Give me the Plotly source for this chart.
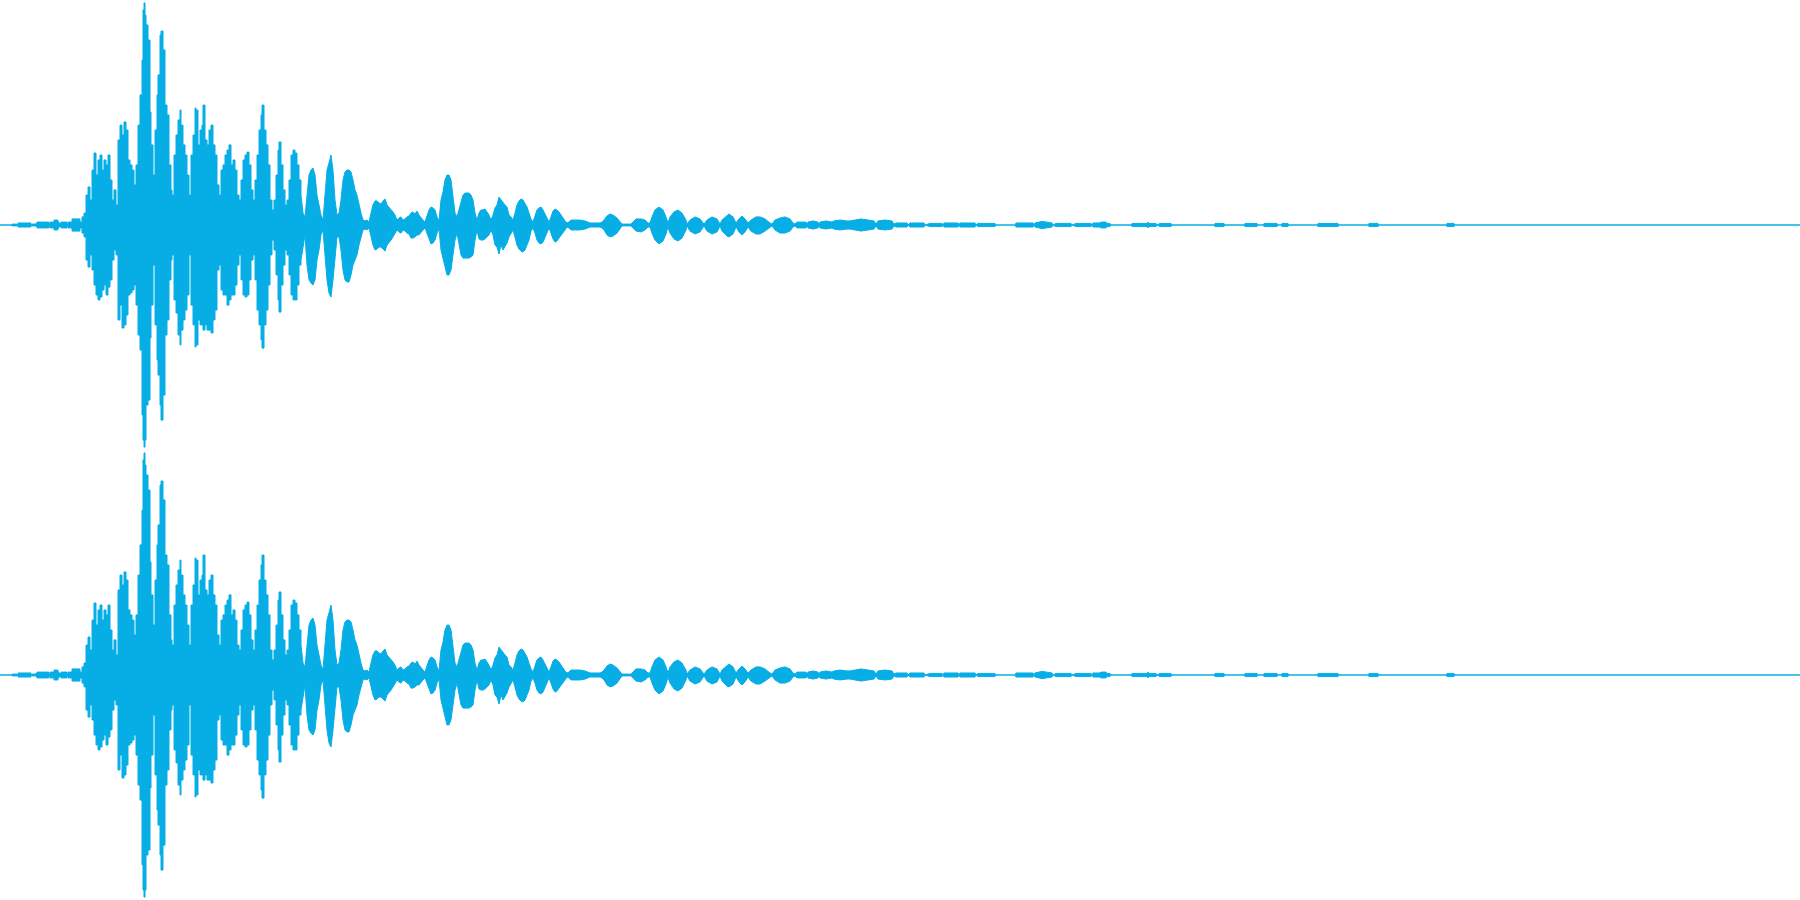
import plotly.graph_objects as go
from plotly.subplots import make_subplots

# Waveform overview: per-bin peak levels, % of full scale
bins = [0, 11, 12, 16, 17, 18, 30, 31, 32, 36, 37, 48, 49, 50, 54, 58, 59, 61, 66, 67, 68, 72, 78, 80, 82, 84,
        86, 88, 90, 92, 94, 96, 98, 100, 102, 104, 106, 108, 110, 112, 114, 116, 118, 120, 122, 124, 126, 128,
        130, 132, 134, 136, 138, 140, 142, 143, 144, 145, 146, 148, 150, 151, 153, 155, 157, 158, 160, 161, 163,
        165, 167, 169, 171, 172, 174, 176, 178, 180, 181, 183, 185, 187, 189, 191, 193, 195, 196, 198, 200, 202,
        203, 205, 207, 209, 211, 213, 215, 217, 219, 221, 223, 225, 227, 229, 231, 233, 235, 237, 239, 241, 243,
        245, 247, 249, 251, 253, 255, 257, 259, 261, 262, 264, 266, 268, 270, 272, 274, 276, 278, 279, 281, 283,
        285, 287, 289, 291, 293, 295, 297, 299, 301, 303, 305, 307, 309, 311, 313, 315, 317, 319, 321, 323, 325,
        327, 329, 331, 333, 335, 337, 339, 341, 343, 345, 347, 349, 351, 353, 355, 357, 359, 361, 363, 365, 367,
        369, 371, 373, 375, 377, 379, 381, 383, 385, 387, 389, 391, 393, 395, 397, 399, 401, 403, 405, 407, 409,
        411, 413, 415, 417, 419, 421, 423, 425, 427, 429, 431, 433, 435, 437, 439, 441, 443, 445, 447, 449, 451,
        453, 455, 457, 459, 461, 463, 465, 467, 469, 471, 473, 475, 477, 479, 481, 483, 485, 487, 489, 491, 493,
        495, 497, 499, 501, 503, 505, 507, 509, 511, 513, 515, 517, 519, 521, 523, 525, 527, 529, 531, 533, 535,
        537, 539, 541, 543, 545, 547, 549, 551, 553, 555, 557, 559, 561, 563, 565, 567, 569, 571, 575, 580, 585,
        589, 590, 600, 602, 604, 607, 610, 613, 617, 620, 622, 631, 633, 636, 641, 645, 648, 650, 652, 655, 659,
        663, 666, 668, 670, 674, 678, 682, 686, 687, 690, 695, 700, 704, 707, 712, 717, 720, 722, 727, 729, 733,
        736, 739, 742, 745, 748, 751, 756, 760, 765, 770, 772, 775, 780, 785, 790, 793, 795, 797, 800, 806, 807,
        808, 813, 818, 819, 820, 826, 832, 834, 840, 847, 850, 855, 861, 868, 874, 876, 878, 885, 892, 894, 896,
        907, 908, 910, 924, 925, 930, 942, 943, 944, 958, 959, 960, 975, 976, 978, 995, 996, 1015, 1016, 1033,
        1034, 1035, 1042, 1048, 1052, 1053, 1056, 1071, 1072, 1076, 1091, 1092, 1093, 1100, 1101, 1106, 1107,
        1110, 1111, 1131, 1132, 1147, 1148, 1149, 1156, 1157, 1160, 1171, 1172, 1214, 1215, 1224, 1225, 1244,
        1245, 1257, 1258, 1263, 1264, 1277, 1278, 1281, 1282, 1288, 1289, 1317, 1318, 1338, 1339, 1368, 1369,
        1378, 1379, 1446, 1447, 1454, 1455, 1800]

left_max = [0, 0, 0.4, 0.4, 0, 0.9, 0.9, 0, 0.4, 0.7, 1.3, 1.3, 0.4, 1.3, 2.2, 1.3, 0.7, 1.3, 1.3, 0.4, 1.3, 2.7, 2.7, 1.3, 3.6, 5.3,
            13.3, 16.9, 11.1, 24.4, 32, 22.2, 28.9, 31.1, 24.4, 28.9, 26.7, 31.1, 20, 11.1, 15.6, 8.9, 37.8, 44.4, 40, 45.8, 42.2, 28.9,
            26.7, 24.4, 17.8, 26.7, 44.4, 57.8, 73.3, 95.6, 98.7, 93.3, 88.9, 82.2, 50.2, 35.6, 22.2, 42.2, 57.8, 66.7, 84.4, 86.2, 77.8,
            53.3, 48.9, 26.7, 15.6, 13.3, 31.1, 40, 46.7, 51.1, 44.4, 35.6, 31.1, 22.2, 13.3, 31.1, 40, 52, 51.1, 35.6, 42.2, 44.4,
            53.3, 37.8, 35.6, 42.2, 44.4, 35.6, 31.1, 17.8, 13.3, 24.4, 26.7, 31.1, 33.3, 35.6, 26.7, 28.9, 24.4, 13.3, 11.1, 20, 28.9,
            31.1, 32.4, 26.7, 15.6, 11.1, 20, 31.1, 42.2, 48.9, 53.3, 42.2, 35.6, 26.7, 11.1, 6.7, 11.1, 22.2, 33.3, 36.9, 26.7, 15.6,
            8.9, 11.1, 20, 31.1, 33.3, 32, 26.7, 20, 13.3, 5.3, 3.6, 13.3, 22.2, 24.4, 25.3, 22.2, 13.3, 8.9, 4.4, 2.2, 13.3,
            24.4, 27.6, 31.1, 24.4, 11.1, 4.4, 5.3, 11.1, 20, 23.6, 24.4, 24.4, 23.6, 20, 15.6, 13.3, 8.9, 5.3, 2.2, 1.8, 2.2,
            1.3, 5.3, 8.9, 10.7, 10.7, 9.8, 9.3, 10.7, 11.6, 8.9, 8, 6.7, 5.8, 4.4, 2.2, 3.1, 3.6, 2.2, 2.7, 3.6, 4,
            5.3, 5.8, 4.9, 6.2, 4.4, 3.1, 2.2, 1.3, 3.6, 6.7, 8, 7.6, 6.7, 3.6, 1.8, 11.1, 14.7, 20, 22.2, 22.2, 20,
            11.1, 5.3, 3.6, 6.7, 9.8, 13.3, 14.2, 14.2, 14.2, 13.3, 11.1, 5.3, 2.2, 5.3, 6.7, 6.7, 7.1, 5.8, 4.4, 2.2, 4.4,
            7.6, 8.9, 12.4, 11.1, 9.8, 8.9, 8, 4.4, 3.6, 2.2, 5.3, 8.9, 10.7, 11.6, 11.1, 9.8, 8, 5.3, 2.7, 1.3, 3.6,
            6.7, 7.6, 8, 6.7, 4.9, 2.7, 1.3, 3.6, 6.2, 7.1, 6.7, 5.8, 4.4, 3.6, 1.8, 0.9, 1.3, 2.2, 2.2, 2.2, 1.8,
            1.3, 0.9, 0.9, 1.3, 2.2, 4, 4.9, 4.4, 3.1, 1.3, 0.4, 0.4, 1.3, 2.7, 2.7, 2.2, 0.9, 0.9, 3.6, 6.7, 8,
            6.7, 3.6, 0.9, 3.6, 5.8, 6.7, 5.3, 2.2, 0.4, 2.2, 3.6, 2.7, 0.4, 2.2, 3.6, 2.7, 0.4, 2.2, 4.4, 4.9, 3.6,
            0.9, 2.7, 4, 2.7, 0.9, 2.2, 3.6, 3.6, 2.7, 0.9, 0.4, 2.2, 3.1, 3.6, 2.7, 0.9, 0.4, 1.3, 1.3, 1.3, 0.4,
            1.3, 1.8, 1.3, 0.4, 1.3, 1.8, 1.3, 1.8, 2.2, 1.8, 1.8, 2.2, 2.7, 2.2, 1.8, 0.4, 1.8, 2.2, 1.8, 0.4, 0.9,
            0.9, 0, 0.9, 0.9, 0, 0.7, 0.7, 0, 0.9, 0.9, 0, 0.9, 0.9, 0, 0.7, 0.7, 0, 0, 0.9, 0.9,
            0, 0.9, 1.6, 1.3, 0.9, 0, 0.7, 0.7, 0, 0.7, 0.7, 0, 0.9, 0.9, 1.3, 1.3, 0.7,
            0.7, 0, 0, 0.7, 0.7, 1.3, 0.7, 0.7, 0, 0.7, 0.7, 0, 0, 0.7, 0.7, 0, 0,
            0.7, 0.7, 0, 0, 0.7, 0.7, 0, 0, 0.7, 0.7, 0, 0, 0.7, 0.7, 0, 0, 0.7,
            0.7, 0, 0, 0.7, 0.7, 0, 0]

left_min = [0, 0, -0.4, -0.4, 0, -0.9, -0.9, 0, -0.4, -0.7, -1.3, -1.3, -0.4, -1.3, -2.2, -1.3, -0.7, -1.3, -1.3, -0.4, -1.3, -2.7, -2.7, -1.3, -3.6, -5.3,
            -15.6, -18.7, -13.3, -20, -26.7, -31.1, -33.3, -32, -28.9, -26.7, -31.1, -27.6, -24.4, -15.6, -11.1, -13.3, -42.2, -35.6, -45.8, -44.4, -40, -31.1,
            -30.2, -28.9, -26.7, -35.6, -48.9, -55.6, -84.4, -95.6, -98.7, -95.6, -80, -77.8, -50.2, -35.6, -17.8, -44.4, -60, -66.7, -80, -86.7, -75.6,
            -48.9, -42.2, -24.4, -15.6, -13.3, -33.3, -39.1, -48.9, -53.3, -46.7, -42.2, -37.8, -31.1, -13.3, -35.6, -44.4, -54.2, -53.3, -42.2, -44.4, -44.4,
            -46.7, -44.4, -46.7, -46.7, -48, -42.2, -37.8, -20, -17.8, -28.9, -31.1, -31.1, -35.6, -33.3, -31.1, -31.1, -26.7, -17.8, -13.3, -24.4, -31.1,
            -32, -31.1, -24.4, -15.6, -13.3, -24.4, -37.8, -44.4, -51.1, -54.7, -44.4, -37.8, -26.7, -13.3, -6.7, -11.1, -22.2, -33.3, -38.7, -26.7, -17.8,
            -11.1, -13.3, -22.2, -31.1, -33.3, -33.3, -26.7, -17.8, -15.6, -8.9, -4.4, -17.8, -24.4, -25.8, -26.7, -24.4, -15.6, -11.1, -4.4, -2.2, -15.6,
            -24.4, -30.2, -32, -24.4, -13.3, -5.3, -5.3, -11.1, -20, -24.4, -25.3, -25.3, -22.2, -17.8, -15.6, -13.3, -8.9, -5.3, -2.2, -1.8, -2.2,
            -1.3, -5.3, -8.9, -11.1, -10.7, -9.8, -9.8, -10.7, -11.6, -8.9, -8, -6.7, -5.3, -3.6, -2.2, -3.1, -3.6, -2.2, -2.7, -3.6, -4,
            -5.8, -5.8, -5.3, -4.4, -4.4, -3.1, -2.2, -1.3, -3.6, -6.7, -8.4, -8, -6.7, -3.6, -1.8, -11.1, -14.7, -17.8, -22.2, -22.2, -20,
            -13.3, -6.7, -3.6, -8.9, -13.3, -14.7, -14.7, -14.7, -14.7, -14.2, -13.3, -6.7, -2.2, -6.2, -6.7, -6.7, -6.2, -5.3, -4.4, -2.2, -4.4,
            -8.9, -9.8, -12.9, -8.9, -11.1, -9.8, -8, -5.3, -3.6, -2.2, -5.3, -8.9, -10.7, -11.6, -12, -11.1, -8.9, -6.7, -2.7, -1.3, -3.6,
            -6.7, -8, -8.4, -7.6, -5.3, -2.7, -1.3, -3.6, -6.2, -7.6, -7.1, -5.8, -4.4, -3.6, -2.2, -0.9, -1.3, -2.2, -2.2, -2.2, -1.8,
            -1.3, -0.9, -0.9, -1.3, -2.2, -4.4, -5.3, -4.9, -3.6, -1.8, -0.4, -0.4, -1.3, -2.7, -3.1, -2.2, -0.9, -0.9, -3.6, -6.7, -8.4,
            -7.1, -4, -0.9, -3.6, -6.2, -7.1, -5.8, -2.2, -0.4, -2.7, -4, -3.1, -0.4, -2.7, -4, -3.1, -0.4, -2.7, -4.9, -5.3, -4,
            -0.9, -3.1, -4.4, -3.1, -0.9, -2.7, -4, -4, -2.7, -0.9, -0.4, -2.2, -3.6, -3.6, -2.7, -0.9, -0.4, -1.3, -1.3, -1.3, -0.4,
            -1.3, -1.8, -1.3, -0.4, -1.3, -1.8, -1.3, -1.8, -2.2, -1.8, -1.8, -2.2, -2.7, -2.2, -1.8, -0.4, -1.8, -2.2, -1.8, -0.4, -0.9,
            -0.9, 0, -0.9, -0.9, 0, -0.7, -0.7, 0, -0.9, -0.9, 0, -0.9, -0.9, 0, -0.7, -0.7, 0, 0, -0.9, -0.9,
            0, -0.9, -1.6, -1.3, -0.9, 0, -0.7, -0.7, 0, -0.7, -0.7, 0, -0.9, -0.9, -1.3, -1.3, -0.7,
            -0.7, 0, 0, -0.7, -0.7, -1.3, -0.7, -0.7, 0, -0.7, -0.7, 0, 0, -0.7, -0.7, 0, 0,
            -0.7, -0.7, 0, 0, -0.7, -0.7, 0, 0, -0.7, -0.7, 0, 0, -0.7, -0.7, 0, 0, -0.7,
            -0.7, 0, 0, -0.7, -0.7, 0, 0]

# the second channel reads identically to the first
right_max = list(left_max)
right_min = list(left_min)

WAVE_COLOR = "#07AEE6"
DENSE_END = 301  # onset/transient section drawn as stepped columns, tail drawn smooth

fig = make_subplots(rows=2, cols=1, shared_xaxes=True, vertical_spacing=0)

k = bins.index(DENSE_END)
for row, (hi, lo) in enumerate([(left_max, left_min), (right_max, right_min)], start=1):
    for levels in (hi, lo):
        for xs, ys, shape in ((bins[:k + 1], levels[:k + 1], "hv"), (bins[k:], levels[k:], "linear")):
            fig.add_trace(
                go.Scatter(
                    x=xs,
                    y=ys,
                    mode="lines",
                    line=dict(color=WAVE_COLOR, width=1, shape=shape),
                    fill="tozeroy",
                    fillcolor=WAVE_COLOR,
                    hoverinfo="skip",
                    showlegend=False,
                ),
                row=row, col=1,
            )

axis_off = dict(visible=False, showgrid=False, zeroline=False, fixedrange=True)
fig.update_xaxes(range=[0, 1800], **axis_off)
fig.update_yaxes(range=[-100, 100], **axis_off)

fig.update_layout(
    width=1800,
    height=900,
    margin=dict(l=0, r=0, t=0, b=0),
    paper_bgcolor="white",
    plot_bgcolor="white",
)

fig.write_html(
    "out.html",
    config={"displayModeBar": False},
    post_script="document.body.style.margin='0';document.body.style.overflow='hidden';",
)
